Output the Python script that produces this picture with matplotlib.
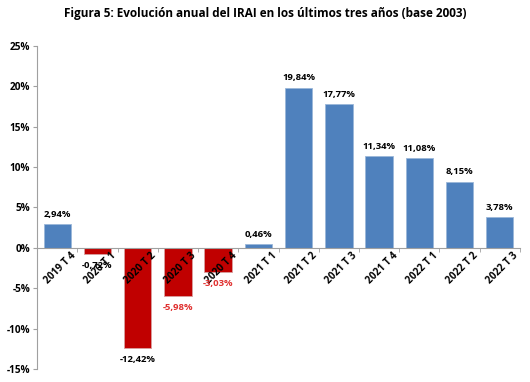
import matplotlib.pyplot as plt
import matplotlib.transforms as mtransforms
import numpy as np

# Datos
periodos = ['2019 T 4', '2020 T 1', '2020 T 2', '2020 T 3', '2020 T 4', '2021 T 1',
            '2021 T 2', '2021 T 3', '2021 T 4', '2022 T 1', '2022 T 2', '2022 T 3']
valores = [2.94, -0.72, -12.42, -5.98, -3.03, 0.46, 19.84, 17.77, 11.34, 11.08, 8.15, 3.78]
etiquetas = ['2,94%', '-0,72%', '-12,42%', '-5,98%', '-3,03%', '0,46%',
             '19,84%', '17,77%', '11,34%', '11,08%', '8,15%', '3,78%']
color_etiqueta = ['black', 'black', 'black', '#e0302f', '#e0302f', 'black',
                  'black', 'black', 'black', 'black', 'black', 'black']

plt.rcParams['font.family'] = ['Open Sans', 'DejaVu Sans']

fig = plt.figure(figsize=(5.3, 3.82), dpi=100)
ax = fig.add_axes([0.07, 0.034, 0.911, 0.846])

x = np.arange(len(valores))
colores = ['#4f81bd' if v >= 0 else '#c00000' for v in valores]
bordes = ['#9bb7d9' if v >= 0 else '#d9a0a0' for v in valores]
ax.bar(x, valores, width=0.68, color=colores, edgecolor=bordes, linewidth=0.6)

for xi, v, t, c in zip(x, valores, etiquetas, color_etiqueta):
    if v >= 0:
        ax.annotate(t, (xi, v), xytext=(0, 4), textcoords='offset points',
                    ha='center', va='bottom', fontsize=6.8, fontweight='bold', color=c)
    else:
        ax.annotate(t, (xi, v), xytext=(0, -5), textcoords='offset points',
                    ha='center', va='top', fontsize=6.8, fontweight='bold', color=c)

ax.set_xlim(-0.5, len(valores) - 0.5)
ax.set_ylim(-15, 25)
ax.set_yticks(np.arange(-15, 26, 5))
ax.set_yticklabels([f'{v}%' for v in range(-15, 26, 5)], fontsize=7.2, fontweight='bold')

ax.spines['top'].set_visible(False)
ax.spines['right'].set_visible(False)
ax.spines['left'].set_color('#a0a0a0')
ax.spines['bottom'].set_position(('data', 0))
ax.spines['bottom'].set_color('#a0a0a0')
ax.tick_params(axis='y', length=3, color='#a0a0a0', pad=2)

ax.set_xticks(x)
ax.set_xticklabels(periodos, rotation=45, ha='right', rotation_mode='anchor',
                   fontsize=7.2, fontweight='bold')
ax.set_xticks(np.arange(-0.5, len(valores), 1), minor=True)
ax.tick_params(axis='x', which='major', length=0, pad=2)
ax.tick_params(axis='x', which='minor', length=3, color='#a0a0a0')
offset = mtransforms.ScaledTranslation(13 / 100, 0, fig.dpi_scale_trans)
for lbl in ax.get_xticklabels():
    lbl.set_transform(lbl.get_transform() + offset)

fig.text(0.5, 0.965, 'Figura 5: Evolución anual del IRAI en los últimos tres años (base 2003)',
         ha='center', va='center', fontsize=8.5, fontweight='bold')

fig.savefig('out.png', dpi=100)
